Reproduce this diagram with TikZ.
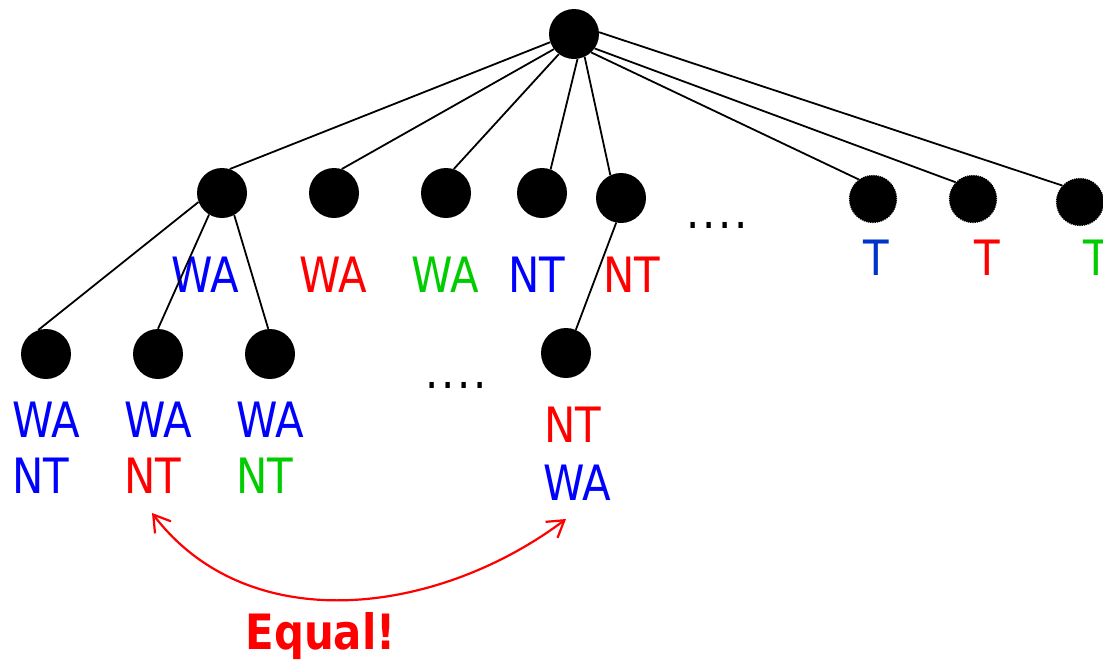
\documentclass[tikz,border=0pt]{standalone}
\usepackage{fontspec}
\setmainfont{DejaVu Sans}[FakeStretch=0.86]
\usetikzlibrary{arrows.meta}
\definecolor{csBlue}{RGB}{0,0,255}
\definecolor{csDeepBlue}{RGB}{0,51,204}
\definecolor{csRed}{RGB}{255,0,0}
\definecolor{csGreen}{RGB}{0,204,0}
\newcommand{\moredots}{.\hspace{2.5pt}.\hspace{2.5pt}.\hspace{2.5pt}.}

\begin{document}
\begin{tikzpicture}[x=1pt, y=-1pt,
  vtx/.style={circle, fill=black, minimum size=50pt, inner sep=0pt},
  vtxcut/.style={vtx, minimum size=47pt, draw=black, densely dotted, line width=1.2pt},
  lbl/.style={anchor=base, inner sep=1pt, font=\fontsize{48.7}{56}\selectfont},
  branch/.style={line width=1.8pt}]
  \useasboundingbox (0,0) rectangle (1103,662);

  % root and the first assignments
  \node[vtx] (r) at (574,34) {};
  \node[vtx] (wa1) at (222,193) {};
  \node[vtx] (wa2) at (334,193) {};
  \node[vtx] (wa3) at (446,193) {};
  \node[vtx] (nt1) at (542,193) {};
  \node[vtx] (nt2) at (621,198) {};
  \node[vtxcut] (t1) at (873,199) {};
  \node[vtxcut] (t2) at (973,199) {};
  \node[vtxcut] (t3) at (1080,202) {};

  \draw[branch] (r.199) -- (wa1.72);
  \draw[branch] (r.217) -- (wa2.72);
  \draw[branch] (r.233) -- (wa3.72);
  \draw[branch] (r.278) -- (nt1.70);
  \draw[branch] (r.295) -- (nt2.115);
  \draw[branch] (r.313) -- (t1.126);
  \draw[branch] (r.325) -- (t2.136);
  \draw[branch] (r.4) -- (t3.137);

  \node[lbl, csBlue] (lwa1) at (205,292.5) {WA};
  \node[lbl, csRed] (lwa2) at (333,292.5) {WA};
  \node[lbl, csGreen] (lwa3) at (445,292.5) {WA};
  \node[lbl, csBlue] (lnt1) at (537,292.5) {NT};
  \node[lbl, csRed] (lnt2) at (632,292.5) {NT};
  \node[lbl, csDeepBlue] (lt1) at (876,275) {T};
  \node[lbl, csRed] (lt2) at (987,275) {T};
  \node[lbl, csGreen] (lt3) at (1096,275) {T};
  \node[lbl] (more1) at (717,228) {\moredots};

  % second level
  \node[vtx] (x1) at (46,354) {};
  \node[vtx] (x2) at (158,354) {};
  \node[vtx] (x3) at (270,354) {};
  \node[vtx] (x4) at (566,353) {};

  \draw[branch] (wa1.201) -- (x1.108);
  \draw[branch] (wa1.239) -- (x2.90);
  \draw[branch] (wa1.299) -- (x3.94);
  \draw[branch] (nt2.259) -- (x4.67);

  \node[lbl, csBlue] (x1a) at (46,437) {WA};
  \node[lbl, csBlue] (x1b) at (41,493.5) {NT};
  \node[lbl, csBlue] (x2a) at (158,437) {WA};
  \node[lbl, csRed] (x2b) at (153,493.5) {NT};
  \node[lbl, csBlue] (x3a) at (270,437) {WA};
  \node[lbl, csGreen] (x3b) at (265,493.5) {NT};
  \node[lbl, csRed] (x4a) at (573,442.5) {NT};
  \node[lbl, csBlue] (x4b) at (577.5,500) {WA};
  \node[lbl] (more2) at (456,388) {\moredots};

  % same partial assignment reached twice
  \coordinate (eqL) at (152,513);
  \coordinate (eqR) at (566,519);
  \draw[csRed, line width=2.2pt, {Straight Barb[length=16pt,width=20pt]}-{Straight Barb[length=16pt,width=20pt]}]
    (eqL) .. controls (249,640) and (438,615) .. (eqR);
  \node[lbl, csRed, font=\fontsize{48.7}{56}\selectfont\bfseries] (eq) at (320.5,649) {Equal!};
\end{tikzpicture}
\end{document}
